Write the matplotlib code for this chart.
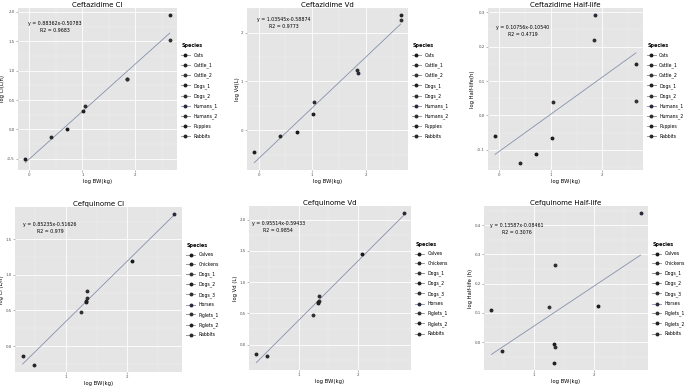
import matplotlib
matplotlib.use("Agg")
import matplotlib.pyplot as plt
from matplotlib.lines import Line2D
from matplotlib.ticker import MultipleLocator, FormatStrFormatter
import numpy as np

# --- Data ---
cefta_species = ["Cats", "Cattle_1", "Cattle_2", "Dogs_1", "Dogs_2",
                 "Humans_1", "Humans_2", "Puppies", "Rabbits"]
cefta_bw = [0.71, 2.65, 2.65, 1.02, 1.04, 1.85, 1.84, -0.08, 0.40]
cefta_cl = [0.00, 1.94, 1.52, 0.305, 0.40, 0.85, 0.86, -0.50, -0.13]
cefta_vd = [-0.03, 2.35, 2.25, 0.34, 0.59, 1.18, 1.24, -0.44, -0.12]
cefta_hl = [-0.113, 0.149, 0.043, -0.064, 0.038, 0.291, 0.219, -0.060, -0.137]

cefq_species = ["Calves", "Chickens", "Dogs_1", "Dogs_2", "Dogs_3",
                "Horses", "Piglets_1", "Piglets_2", "Rabbits"]
cefq_bw = [2.07, 0.29, 1.25, 1.33, 1.35, 2.77, 1.34, 1.33, 0.47]
cefq_cl = [1.20, -0.147, 0.474, 0.626, 0.777, 1.85, 0.68, 0.64, -0.26]
cefq_vd = [1.45, -0.144, 0.48, 0.667, 0.784, 2.10, 0.70, 0.68, -0.18]
cefq_hl = [0.124, 0.11, 0.119, -0.007, 0.265, 0.44, -0.016, -0.07, -0.03]

titles = ["Ceftazidime Cl", "Ceftazidime Vd", "Ceftazidime Half-life",
          "Cefquinome Cl", "Cefquinome Vd", "Cefquinome Half-life"]
ylabels = ["log Cl(L/h)", "log Vd(L)", "log Half-life(h)",
           "log Cl (L/h)", "log Vd (L)", "log Half-life (h)"]
equations = ["y = 0.88362x-0.50783\nR2 = 0.9683",
             "y = 1.03545x-0.58874\nR2 = 0.9773",
             "y = 0.10756x-0.10540\nR2 = 0.4719",
             "y = 0.85235x-0.51626\nR2 = 0.979",
             "y = 0.95514x-0.59433\nR2 = 0.9854",
             "y = 0.13587x-0.08461\nR2 = 0.3076"]

# --- Layout (pixels) ---
W, H = 685, 386
panel_px = [(18, 8, 177, 170), (247, 8, 408, 170), (488, 8, 643, 170),
            (15, 207, 182, 372), (249, 206, 411, 370), (484, 206, 648, 370)]
eq_pos = [(0.23, 0.88), (0.226, 0.905), (0.226, 0.86),
          (0.21, 0.87), (0.18, 0.87), (0.20, 0.86)]
y_step = [0.5, 1, 0.1, 0.5, 0.5, 0.1]
y_fmt = ["%.1f", "%d", "%.1f", "%.1f", "%.1f", "%.1f"]

panels = [(cefta_species, cefta_bw, cefta_cl), (cefta_species, cefta_bw, cefta_vd),
          (cefta_species, cefta_bw, cefta_hl), (cefq_species, cefq_bw, cefq_cl),
          (cefq_species, cefq_bw, cefq_vd), (cefq_species, cefq_bw, cefq_hl)]

point_cols = ["#1a1a1a", "#262626", "#333333", "#1f1f1f", "#2e2e2e",
              "#2a2a3a", "#303030", "#202020", "#282828"]
key_cols = ["#8a8a8a", "#8a8a8a", "#808080", "#858585", "#8f8f8f",
            "#7f8cae", "#888888", "#909090", "#858585"]

fig = plt.figure(figsize=(W / 100, H / 100), dpi=100)
fig.patch.set_facecolor("white")

for i, (species, bw, vals) in enumerate(panels):
    x0, y0, x1, y1 = panel_px[i]
    ax = fig.add_axes([x0 / W, (H - y1) / H, (x1 - x0) / W, (y1 - y0) / H])
    ax.set_facecolor("#E5E5E5")
    for s in ax.spines.values():
        s.set_visible(False)

    # regression line (lm fit, like geom_smooth)
    slope, icpt = np.polyfit(bw, vals, 1)
    xs = np.array([min(bw), max(bw)])
    ax.plot(xs, slope * xs + icpt, color="#8590ad", lw=0.6, zorder=2)

    for j, sp in enumerate(species):
        ax.plot(bw[j], vals[j], "o", ms=1.8, color=point_cols[j], zorder=3)

    ax.margins(0.05)
    ax.xaxis.set_major_locator(MultipleLocator(1))
    ax.xaxis.set_minor_locator(MultipleLocator(0.5))
    ax.yaxis.set_major_locator(MultipleLocator(y_step[i]))
    ax.yaxis.set_minor_locator(MultipleLocator(y_step[i] / 2))
    ax.xaxis.set_major_formatter(FormatStrFormatter("%d"))
    ax.yaxis.set_major_formatter(FormatStrFormatter(y_fmt[i]))
    ax.grid(which="major", color="white", lw=0.6)
    ax.grid(which="minor", color="#F2F2F2", lw=0.3)
    ax.set_axisbelow(True)
    ax.tick_params(which="major", length=1.5, width=0.4, color="#7F7F7F",
                   labelsize=2.9, labelcolor="#4D4D4D", pad=1)
    ax.tick_params(which="minor", length=0)

    ax.set_title(titles[i], fontsize=5, pad=1)
    ax.set_xlabel("log BW(kg)", fontsize=3.8, labelpad=1)
    ax.set_ylabel(ylabels[i], fontsize=3.8, labelpad=1)
    ax.text(eq_pos[i][0], eq_pos[i][1], equations[i], transform=ax.transAxes,
            ha="center", va="center", fontsize=3.4, linespacing=1.5,
            multialignment="center")

    handles = [Line2D([0], [0], color=key_cols[j], lw=0.6, marker="o", ms=1.8,
                      markerfacecolor=point_cols[j], markeredgecolor=point_cols[j])
               for j in range(len(species))]
    leg = ax.legend(handles, species, title="Species", loc="upper left",
                    bbox_to_anchor=(1.01, 0.80), frameon=False, fontsize=3.3,
                    title_fontsize=3.5, labelspacing=1.0, handlelength=1.8,
                    handletextpad=0.8, borderaxespad=0.2)
    leg._legend_box.align = "left"
    leg.get_title().set_fontweight("bold")

fig.savefig("out.png", dpi=100)
